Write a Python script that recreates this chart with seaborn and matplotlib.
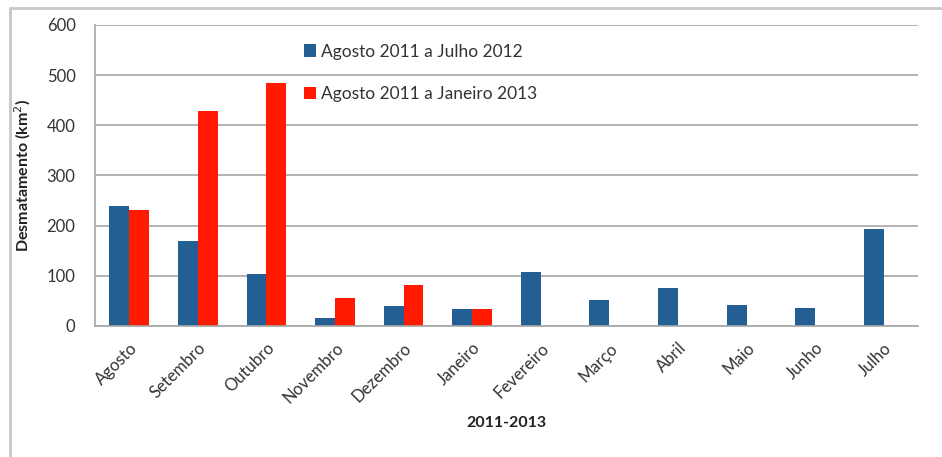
import numpy as np
import pandas as pd
import seaborn as sns
from matplotlib import pyplot as plt
from matplotlib.lines import Line2D

months = ['Agosto', 'Setembro', 'Outubro', 'Novembro', 'Dezembro', 'Janeiro',
          'Fevereiro', 'Março', 'Abril', 'Maio', 'Junho', 'Julho']
serie_2012 = [239, 170, 103, 16, 39, 33, 107, 52, 76, 42, 35, 193]
serie_2013 = [231, 429, 485, 55, 82, 33, np.nan, np.nan, np.nan, np.nan, np.nan, np.nan]
series_names = ['Agosto 2011 a Julho 2012', 'Agosto 2011 a Janeiro 2013']
colors = ['#245F93', '#FF1A00']

df = pd.DataFrame({
    'mes': months * 2,
    'valor': serie_2012 + serie_2013,
    'serie': [series_names[0]] * 12 + [series_names[1]] * 12,
})

sns.set_style('white')
plt.rcParams['font.family'] = ['Lato', 'DejaVu Sans']

fig = plt.figure(figsize=(9.42, 4.57), dpi=100)
ax = fig.add_axes([0.1008, 0.2867, 0.8737, 0.6586])

sns.barplot(data=df, x='mes', y='valor', hue='serie', order=months,
            hue_order=series_names, palette=colors, width=0.58,
            saturation=1, ax=ax, errorbar=None, linewidth=0)

ax.set_ylim(0, 600)
ax.set_xlim(-0.5, 11.5)
ax.set_yticks(range(0, 601, 100))
ax.yaxis.grid(True, color='#A6A6A6', linewidth=1.2)
ax.set_axisbelow(True)

for s in ['top', 'right']:
    ax.spines[s].set_visible(False)
for s in ['left', 'bottom']:
    ax.spines[s].set_color('#A6A6A6')
    ax.spines[s].set_linewidth(1.2)

ax.set_xticks(np.arange(-0.5, 12, 1), minor=True)
ax.tick_params(axis='x', which='major', length=0, pad=10)
ax.tick_params(axis='x', which='minor', length=6, color='#A6A6A6', width=1.2)
ax.tick_params(axis='y', length=6, color='#A6A6A6', width=1.2, pad=8)
plt.setp(ax.get_xticklabels(), rotation=45, ha='right', rotation_mode='anchor',
         fontsize=12, color='#333333')
plt.setp(ax.get_yticklabels(), fontsize=12, color='#333333')

ax.set_xlabel('2011-2013', fontsize=11.5, fontweight='bold', color='#222222', labelpad=7)
ax.set_ylabel('Desmatamento (km$^2$)', fontsize=11.5, fontweight='bold', color='#222222', labelpad=10)

ax.legend(loc='upper left', bbox_to_anchor=(0.235, 0.99), frameon=False,
          fontsize=12.5, labelspacing=1.5, handlelength=0.7, handleheight=0.7,
          handletextpad=0.3, labelcolor='#333333')

# moldura cinza à volta da figura
fig.add_artist(Line2D([0.0106, 1.0], [1 - 8 / 457, 1 - 8 / 457], color='#C8C8C8', linewidth=2))
fig.add_artist(Line2D([0.0106, 0.0106], [0.0, 1 - 8 / 457], color='#C8C8C8', linewidth=2))

fig.savefig('out.png', dpi=100)
